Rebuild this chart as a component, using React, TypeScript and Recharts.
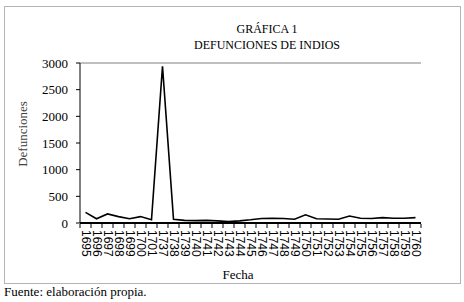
import React from "react";
import { Line, LineChart, ReferenceLine, XAxis, YAxis } from "recharts";

const years = [
  "1695", "1696", "1697", "1698", "1699", "1700", "1701", "1737", "1738", "1739",
  "1740", "1741", "1742", "1743", "1744", "1745", "1746", "1747", "1748", "1749",
  "1750", "1751", "1752", "1753", "1754", "1755", "1756", "1757", "1758", "1759", "1760",
];
const deaths = [
  200, 80, 170, 120, 80, 120, 60, 2940, 70, 50,
  45, 50, 40, 25, 40, 60, 85, 90, 85, 70,
  155, 80, 75, 70, 130, 90, 85, 100, 90, 90, 100,
];
const yTicks = [0, 500, 1000, 1500, 2000, 2500, 3000];

const data = years.map((year, i) => ({ year, deaths: deaths[i] }));

const W = 464;
const H = 302;
const PLOT_LEFT = 80;
const PLOT_RIGHT = 421;
const PLOT_TOP = 63;
const PLOT_BOTTOM = 223;
const BAND = (PLOT_RIGHT - PLOT_LEFT) / years.length;

const serif = "'Liberation Serif', 'Times New Roman', serif";
const sans = "'Liberation Sans', Arial, sans-serif";

// Excel-style category ticks: marks sit between categories, labels turned 90°
const YearTick = (props: any) => {
  const { x, y, payload, index } = props;
  const last = index === years.length - 1;
  return (
    <g>
      <line x1={x - BAND / 2} x2={x - BAND / 2} y1={y} y2={y + 4} stroke="#000" />
      {last && <line x1={x + BAND / 2} x2={x + BAND / 2} y1={y} y2={y + 4} stroke="#000" />}
      <text
        x={x}
        y={y + 6}
        transform={`rotate(90, ${x}, ${y + 6})`}
        textAnchor="start"
        dominantBaseline="central"
        fontFamily={sans}
        fontSize={12}
        fill="#000"
      >
        {payload.value}
      </text>
    </g>
  );
};

export default function App() {
  return (
    <div style={{ position: "absolute", left: 0, top: 0, width: W, height: H, background: "#fff" }}>
      <div
        style={{
          position: "absolute",
          left: 4,
          top: 6,
          width: 455,
          height: 276,
          border: "1px solid #b4b4b4",
        }}
      />
      <LineChart
        width={W}
        height={H}
        data={data}
        margin={{ top: PLOT_TOP, right: W - PLOT_RIGHT, bottom: 0, left: 0 }}
        style={{ position: "absolute", left: 0, top: 0 }}
      >
        <XAxis
          dataKey="year"
          height={H - PLOT_BOTTOM}
          interval={0}
          padding={{ left: BAND / 2, right: BAND / 2 }}
          axisLine={{ stroke: "#000", strokeWidth: 2 }}
          tickLine={false}
          tickSize={0}
          tickMargin={1}
          tick={<YearTick />}
        />
        <YAxis
          width={PLOT_LEFT}
          domain={[0, 3000]}
          ticks={yTicks}
          interval={0}
          axisLine={{ stroke: "#000" }}
          tickLine={{ stroke: "#000" }}
          tickSize={4}
          tickMargin={8}
          tick={{ fontFamily: serif, fontSize: 13, fill: "#000" }}
        />
        <YAxis
          yAxisId="r"
          orientation="right"
          width={0}
          domain={[0, 3000]}
          tick={false}
          tickLine={false}
          axisLine={{ stroke: "#808080" }}
        />
        <ReferenceLine y={3000} stroke="#808080" />
        <Line
          type="linear"
          dataKey="deaths"
          stroke="#000"
          strokeWidth={1.6}
          dot={false}
          isAnimationActive={false}
        />
      </LineChart>
      <div
        style={{
          position: "absolute",
          left: 167,
          width: 200,
          top: 21,
          textAlign: "center",
          fontFamily: serif,
          fontSize: 12,
          lineHeight: "16px",
          color: "#000",
        }}
      >
        GRÁFICA 1
        <br />
        DEFUNCIONES DE INDIOS
      </div>
      <div
        style={{
          position: "absolute",
          left: 23 - 50,
          top: 134 - 8,
          width: 100,
          height: 16,
          lineHeight: "16px",
          textAlign: "center",
          transform: "rotate(-90deg)",
          fontFamily: serif,
          fontSize: 13,
          color: "#404040",
        }}
      >
        Defunciones
      </div>
      <div
        style={{
          position: "absolute",
          left: 188,
          width: 100,
          top: 267,
          lineHeight: "16px",
          textAlign: "center",
          fontFamily: serif,
          fontSize: 13,
          color: "#000",
        }}
      >
        Fecha
      </div>
      <div
        style={{
          position: "absolute",
          left: 4,
          top: 284,
          lineHeight: "16px",
          fontFamily: serif,
          fontSize: 13,
          color: "#000",
        }}
      >
        Fuente: elaboración propia.
      </div>
    </div>
  );
}
